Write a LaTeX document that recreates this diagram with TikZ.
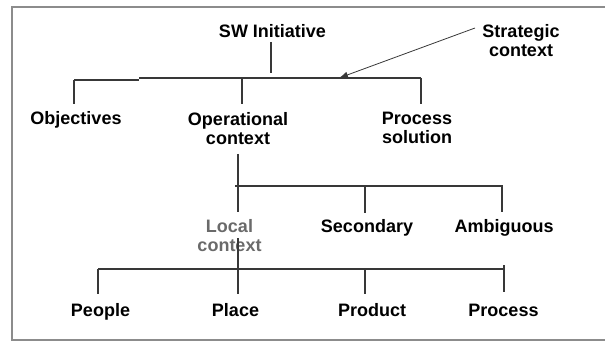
\documentclass[tikz,border=0pt]{standalone}
\usepackage{fontspec}
\setmainfont{Liberation Sans}
\usetikzlibrary{arrows.meta}
\definecolor{linegray}{HTML}{383838}
\definecolor{framegray}{HTML}{8C8C8C}
\definecolor{localgray}{HTML}{6A6A6A}
\tikzset{
  lbl/.style={inner sep=0pt, align=center, font=\fontsize{18}{19}\selectfont\bfseries, text=black},
  lblgray/.style={lbl, text=localgray},
  tree/.style={draw=linegray, line width=1.2pt},
  pointer/.style={draw=linegray, line width=0.8pt, -{Latex[length=9pt,width=6.5pt]}},
  frameline/.style={draw=framegray, line width=2pt}
}
\begin{document}
\begin{tikzpicture}[x=1pt,y=-1pt]
\useasboundingbox (0,0) rectangle (605,342);
\draw[frameline] (607,7) -- (12,7) -- (12,340) -- (607,340);

% texts
\node[lbl, anchor=base] (sw) at (272.5,37.5) {SW Initiative};
\node[lbl, anchor=north] (strat) at (521,24.1) {Strategic\\context};
\node[lbl, anchor=base] (obj) at (76,125) {Objectives};
\node[lbl, anchor=north] (oper) at (238,111.9) {Operational\\context};
\node[lbl, anchor=north] (procsol) at (417,111.9) {Process\\solution};
\node[lblgray, anchor=north] (local) at (229.5,219.6) {Local\\context};
\node[lbl, anchor=base] (second) at (367,232.5) {Secondary};
\node[lbl, anchor=base] (ambig) at (504,232.5) {Ambiguous};
\node[lbl, anchor=base] (people) at (100.5,316.7) {People};
\node[lbl, anchor=base] (place) at (235.5,316.7) {Place};
\node[lbl, anchor=base] (product) at (372,316.7) {Product};
\node[lbl, anchor=base] (process) at (503.5,316.7) {Process};

% level 1
\coordinate (swtop) at (271,42);
\coordinate (swbot) at (271,73);
\coordinate (b1a) at (74,80);
\coordinate (b1b) at (139,80);
\coordinate (b1c) at (139,78);
\coordinate (b1d) at (421,78);
\coordinate (objbot) at (74,104);
\coordinate (opertop) at (242,78);
\coordinate (operbot) at (242,104);
\coordinate (procsolbot) at (421,104);
\coordinate (arrowstart) at (475,28);
\coordinate (arrowtip) at (339,78);
\draw[tree] (swtop) -- (swbot);
\draw[tree] (b1a) -- (b1b) (b1c) -- (b1d);
\draw[tree] (b1a) -- (objbot);
\draw[tree] (opertop) -- (operbot);
\draw[tree] (b1d) -- (procsolbot);
\draw[pointer] (arrowstart) -- (arrowtip);

% level 2
\coordinate (ov1) at (238,154);
\coordinate (ov2) at (238,212);
\coordinate (b2a) at (235,186);
\coordinate (b2b) at (503,186);
\coordinate (sectop) at (365,186);
\coordinate (secbot) at (365,213);
\coordinate (ambtop) at (502,186);
\coordinate (ambbot) at (502,212);
\draw[tree] (ov1) -- (ov2);
\draw[tree] (b2a) -- (b2b);
\draw[tree] (sectop) -- (secbot);
\draw[tree] (ambtop) -- (ambbot);

% level 3
\coordinate (lv1) at (238,238);
\coordinate (lv2) at (238,294);
\coordinate (b3a) at (98,269);
\coordinate (b3b) at (504,269);
\coordinate (pplbot) at (98,294);
\coordinate (prodtop) at (365,269);
\coordinate (prodbot) at (365,294);
\coordinate (proctop) at (504,265);
\coordinate (procbot) at (504,292);
\draw[tree] (lv1) -- (lv2);
\draw[tree] (b3a) -- (b3b);
\draw[tree] (b3a) -- (pplbot);
\draw[tree] (prodtop) -- (prodbot);
\draw[tree] (proctop) -- (procbot);
\end{tikzpicture}
\end{document}
